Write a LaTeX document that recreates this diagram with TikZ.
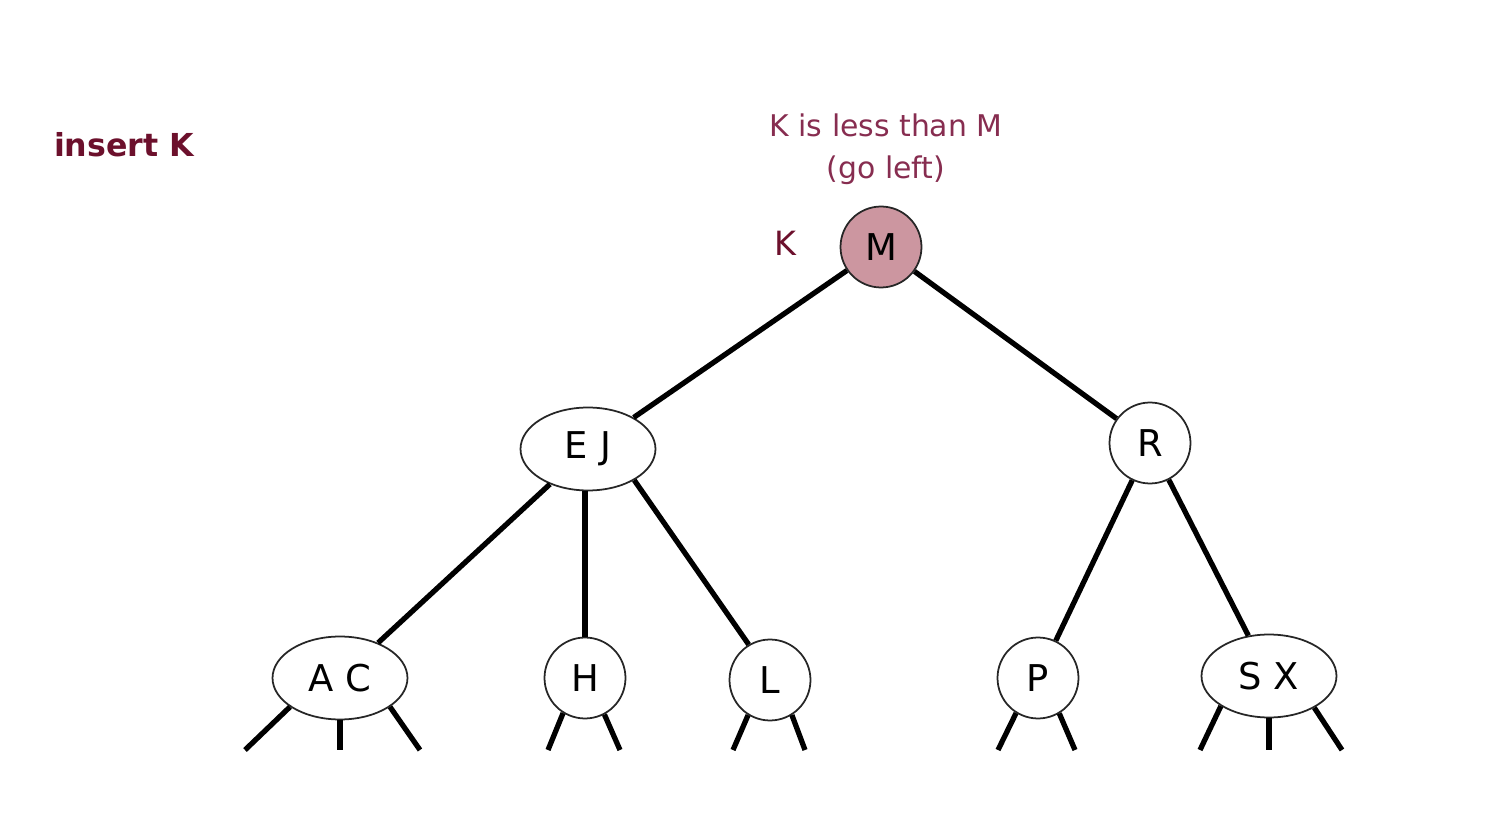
\documentclass[tikz,border=0pt]{standalone}
\usepackage{fontspec}
\setmainfont{DejaVu Sans}
\usepackage{xcolor}
\usetikzlibrary{shapes.geometric}
\definecolor{maroon}{RGB}{108,16,44}
\definecolor{rosetext}{RGB}{135,45,80}
\definecolor{rosefill}{RGB}{204,150,160}
\tikzset{
  key/.style={circle,draw=black!85,line width=1pt,fill=white,minimum size=1.62cm,inner sep=0pt,font=\fontsize{21}{25}\selectfont},
  keys/.style={ellipse,draw=black!85,line width=1pt,fill=white,minimum width=2.7cm,minimum height=1.66cm,inner sep=0pt,font=\fontsize{21}{25}\selectfont},
  link/.style={line width=3pt,black}
}

\begin{document}
\begin{tikzpicture}[x=0.02cm,y=-0.02cm]
\useasboundingbox (0,0) rectangle (1498,820);
% text
\node[text=maroon,font=\fontsize{18}{22}\selectfont\bfseries] (ins) at (124,145) {insert K};
\node[text=rosetext,font=\fontsize{17}{20}\selectfont] (cmp) at (886,125) {K is less than M};
\node[text=rosetext,font=\fontsize{17}{20}\selectfont] (dir) at (886,170) {(go left)};
\node[text=maroon,font=\fontsize{19}{22}\selectfont] (newkey) at (785,243) {K};
% nodes
\node[key,fill=rosefill] (M) at (881,247) {M};
\node[keys] (EJ) at (588,449) {E\,\,J};
\node[key] (R) at (1150,443) {R};
\node[keys] (AC) at (340,678) {A\,\,C};
\node[key] (H) at (585,678) {H};
\node[key] (L) at (770,680) {L};
\node[key] (P) at (1038,678) {P};
\node[keys] (SX) at (1269,676) {S X};
% links
\draw[link] (M) -- (EJ);
\draw[link] (M) -- (R);
\draw[link] (EJ) -- (AC);
\draw[link] (EJ.south -| H) -- (H.north);
\draw[link] (EJ.-34) -- (L.121);
\draw[link] (R) -- (P);
\draw[link] (R) -- (SX);
% null links
\coordinate (ac1) at (245,750);
\coordinate (ac2) at (340,750);
\coordinate (ac3) at (420,750);
\coordinate (h1) at (548,750);
\coordinate (h2) at (620,750);
\coordinate (l1) at (733,750);
\coordinate (l2) at (805,750);
\coordinate (p1) at (998,750);
\coordinate (p2) at (1075,750);
\coordinate (sx1) at (1200,750);
\coordinate (sx2) at (1269,750);
\coordinate (sx3) at (1342,750);
\draw[link] (AC.210) -- (ac1);
\draw[link] (AC.south) -- (ac2);
\draw[link] (AC.-30) -- (ac3);
\draw[link] (H.238) -- (h1);
\draw[link] (H.-62) -- (h2);
\draw[link] (L.238) -- (l1);
\draw[link] (L.-58) -- (l2);
\draw[link] (P.238) -- (p1);
\draw[link] (P.-59) -- (p2);
\draw[link] (SX.212) -- (sx1);
\draw[link] (SX.south) -- (sx2);
\draw[link] (SX.-35) -- (sx3);
\end{tikzpicture}
\end{document}
